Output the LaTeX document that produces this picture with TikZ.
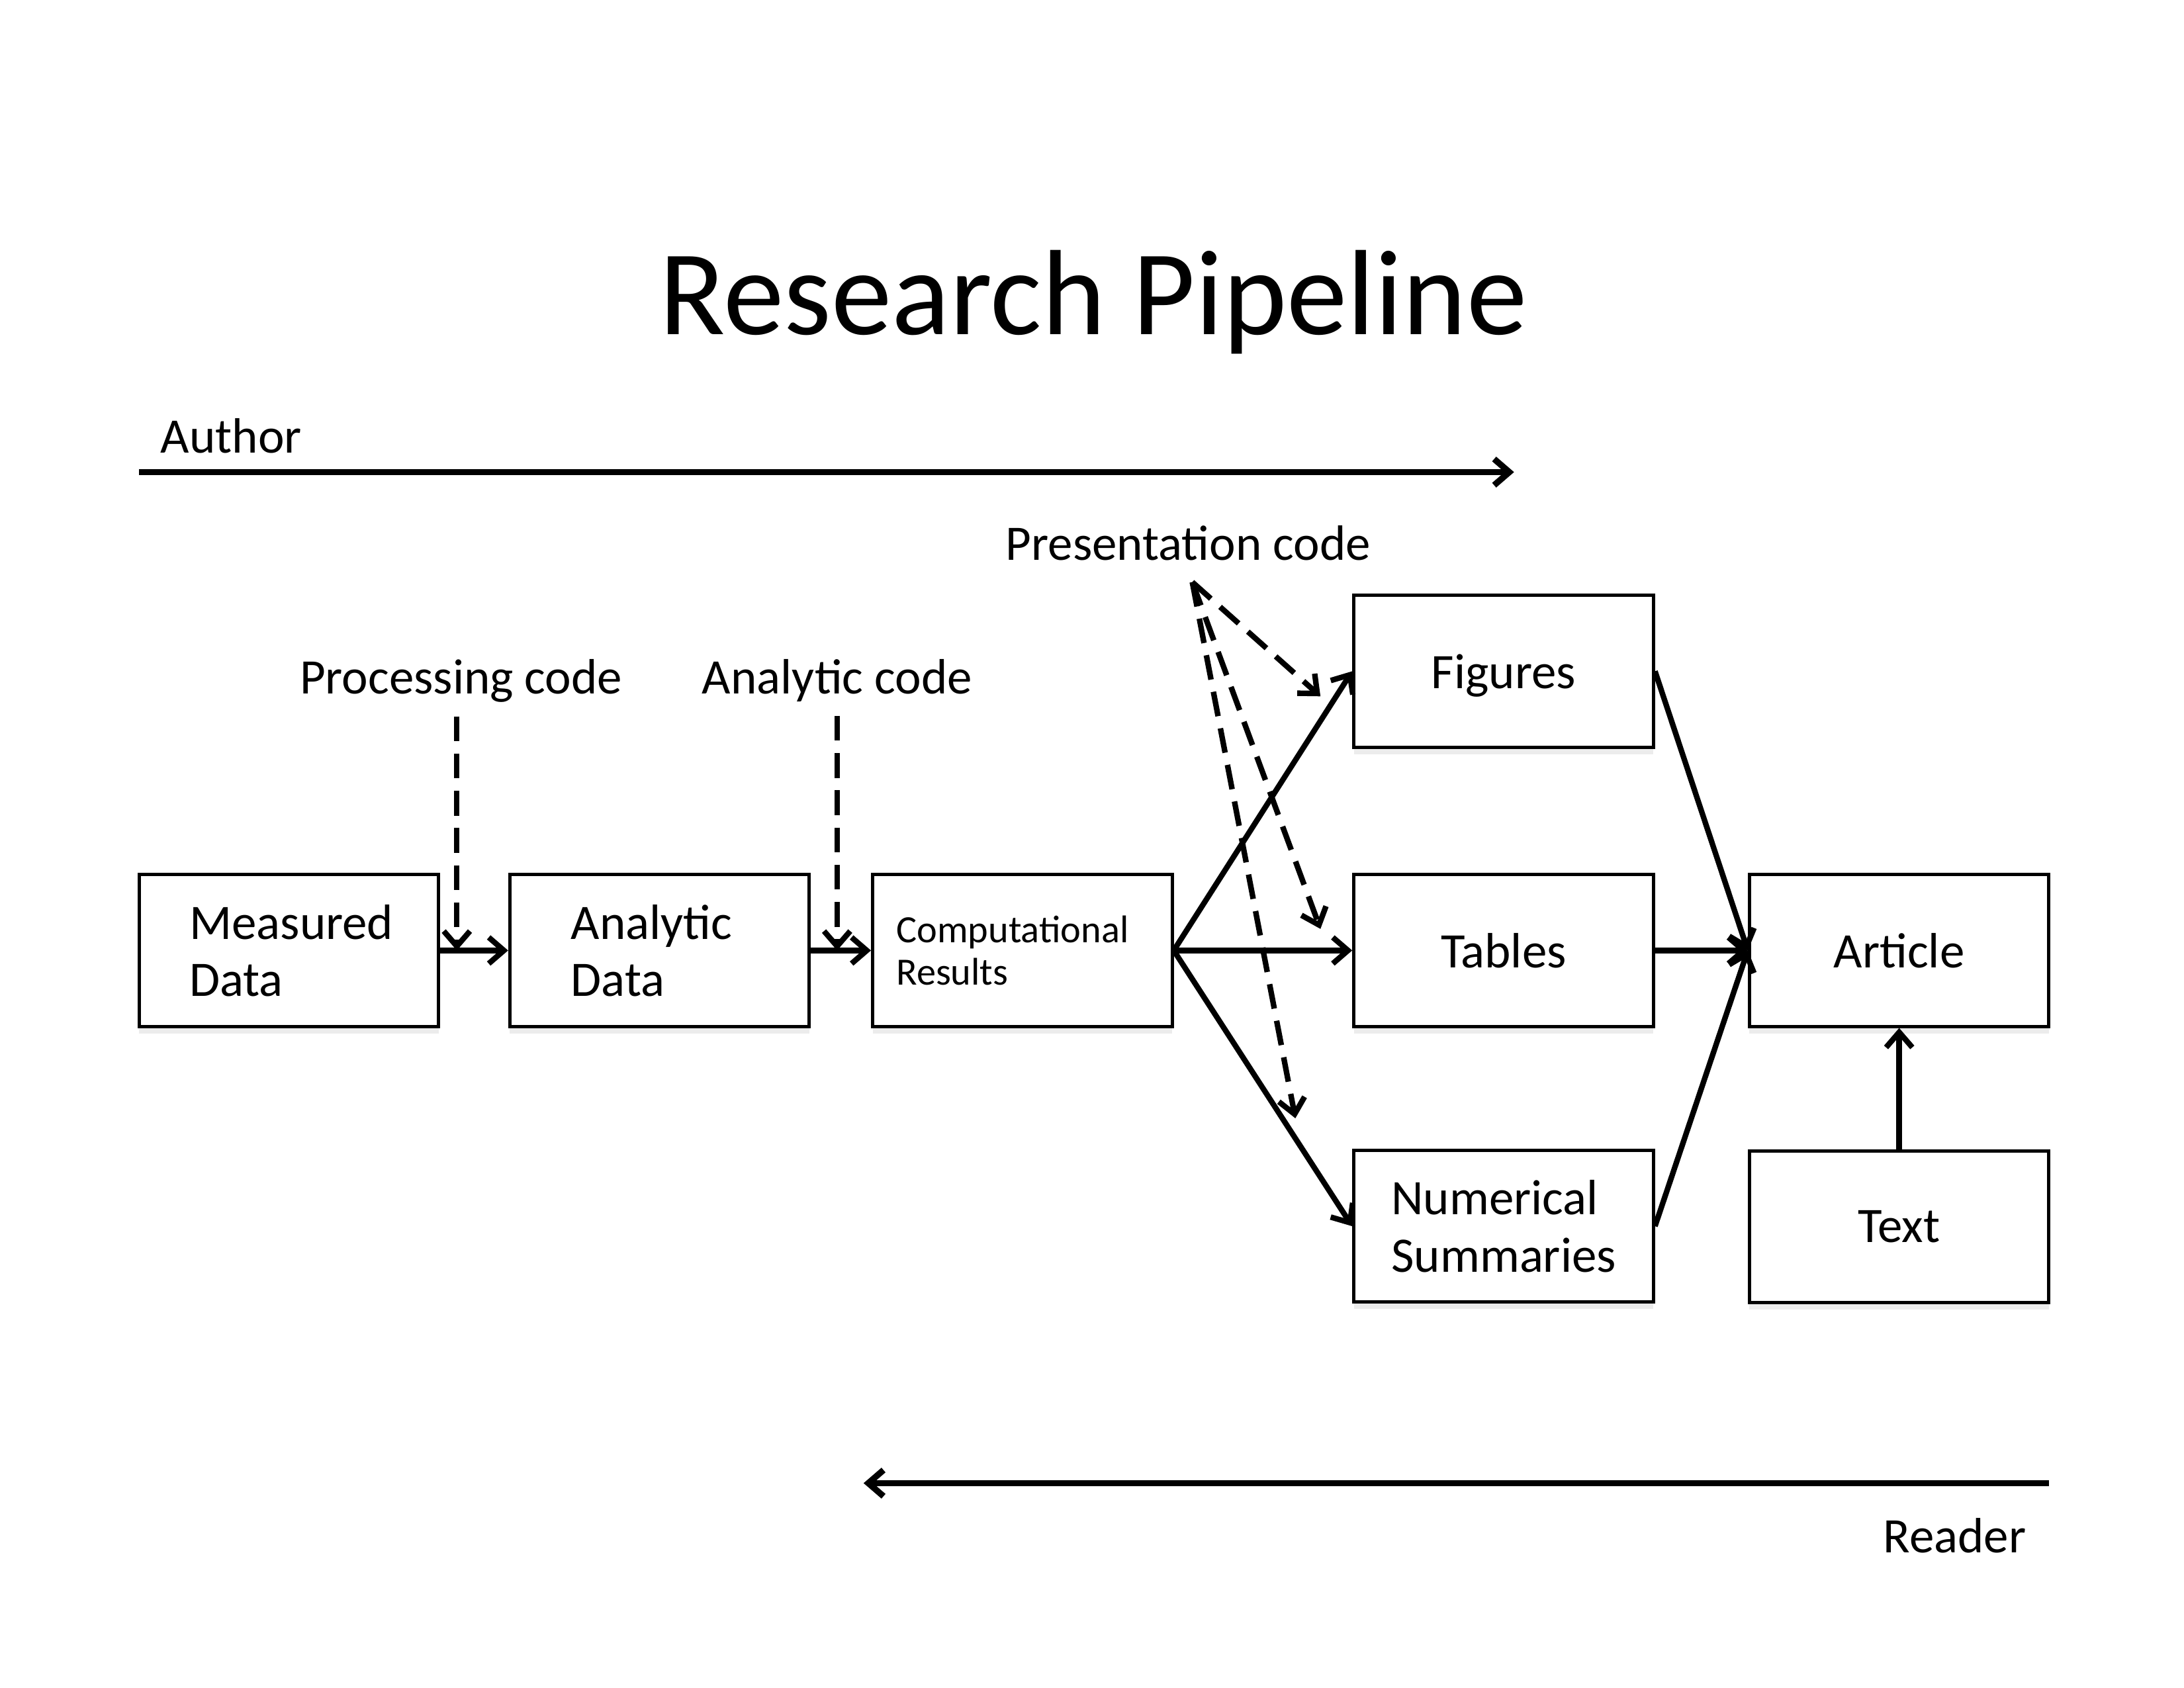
\documentclass[tikz,border=0pt]{standalone}
\usepackage{fontspec}
\setmainfont{Carlito}
\usetikzlibrary{arrows.meta,shadows}
\begin{document}
\begin{tikzpicture}[x=0.5051pt, y=-0.5051pt,
  box/.style={draw, line width=1.2pt, fill=white, minimum width=108.6pt, minimum height=55.06pt,
    drop shadow={shadow xshift=0pt, shadow yshift=-2.5pt, opacity=0.15},
    font=\fontsize{18}{20.7}\selectfont},
  conn/.style={line width=2pt, -{Straight Barb[length=5.5pt,width=9.5pt]}},
  dconn/.style={conn, dash pattern=on 9pt off 4.5pt},
  lbl/.style={font=\fontsize{18}{20.7}\selectfont, inner sep=0pt}]
\useasboundingbox (0,0) rectangle (1568,1212);

% title and direction arrows
\node[lbl, font=\fontsize{44}{50}\selectfont, anchor=base] (title) at (785,240) {Research Pipeline};
\node[lbl, anchor=base west] (author) at (115,325) {Author};
\coordinate (a1) at (100,339);
\coordinate (a2) at (1087,339);
\draw[conn, line width=2.25pt] (a1) -- (a2);
\coordinate (r1) at (1471,1065);
\coordinate (r2) at (620,1065);
\draw[conn, line width=2.25pt] (r1) -- (r2);
\node[lbl, anchor=base east] (reader) at (1455,1115) {Reader};

% boxes
\node[box, align=left, text width=72.2pt, inner xsep=18.2pt] (md) at (207.5,682.5) {Measured\\Data};
\node[box, align=left, text width=64.2pt, inner xsep=22.2pt] (ad) at (473.5,682.5) {Analytic\\Data};
\node[box, align=left, text width=91.4pt, inner xsep=8.6pt, font=\fontsize{14}{15.2}\selectfont] (cr) at (734,682.5) {Computational\\Results};
\node[box, text depth=0pt] (fig) at (1079.5,482) {Figures};
\node[box] (tab) at (1079.5,682.5) {Tables};
\node[box, align=left, text width=81.4pt, inner xsep=13.6pt] (ns) at (1079.5,880.5) {Numerical\\Summaries};
\node[box] (art) at (1363.5,682.5) {Article};
\node[box] (txt) at (1363.5,881) {Text};

% code labels
\node[lbl, anchor=base] (proc) at (331,498) {Processing code};
\node[lbl, anchor=base] (anc) at (601,498) {Analytic code};
\node[lbl, anchor=base] (pres) at (853,402) {Presentation code};

% solid connectors
\draw[conn] (md.east) -- (ad.west);
\draw[conn] (ad.east) -- (cr.west);
\draw[conn] (cr.east) -- (fig.west);
\draw[conn] (cr.east) -- (tab.west);
\draw[conn] (cr.east) -- (ns.west);
\draw[conn] (fig.east) -- (art.west);
\draw[conn] (tab.east) -- (art.west);
\draw[conn] (ns.east) -- (art.west);
\draw[conn] (txt.north) -- (art.south);

% dashed code arrows
\coordinate (p1) at (328,682.5);
\coordinate (p2) at (601,682.5);
\draw[dconn, shorten <=5pt] (proc.south -| p1) -- (p1);
\draw[dconn, shorten <=5pt] (anc.south -| p2) -- (p2);
\coordinate (pc) at (856,418);
\coordinate (pf) at (948,500);
\coordinate (pt) at (948,667);
\coordinate (pn) at (930,803);
\draw[dconn] (pc) -- (pf);
\draw[dconn] (pc) -- (pt);
\draw[dconn] (pc) -- (pn);
\end{tikzpicture}
\end{document}
